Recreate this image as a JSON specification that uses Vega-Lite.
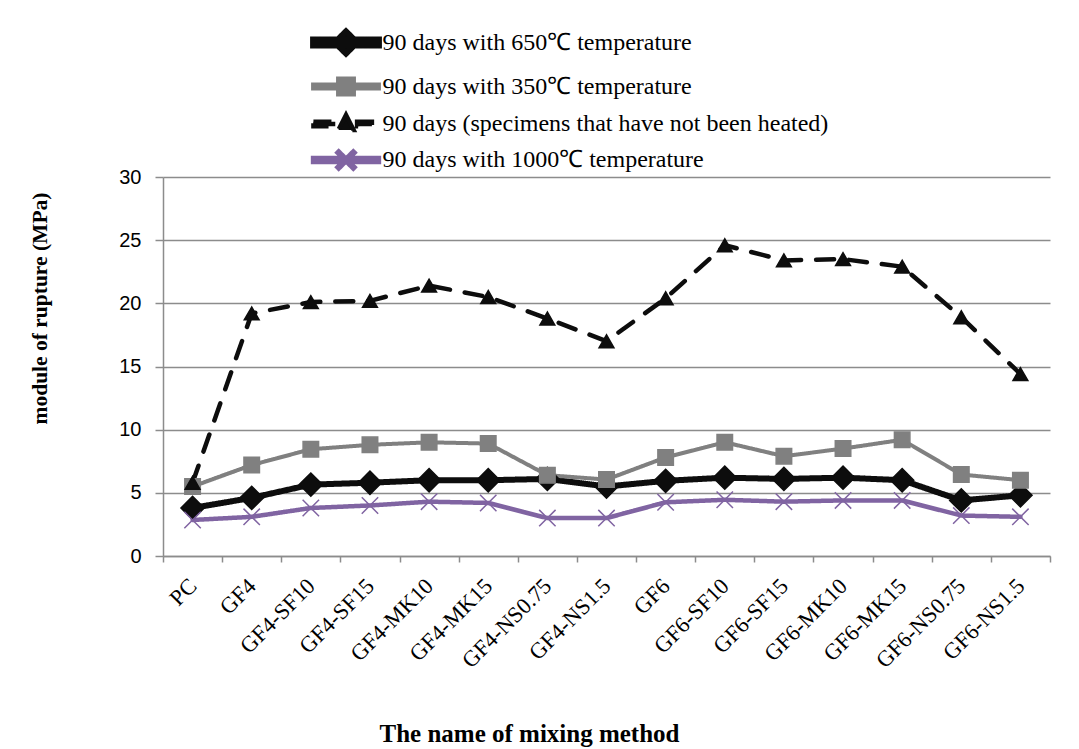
{
  "$schema": "https://vega.github.io/schema/vega-lite/v6.json",
  "width": 887,
  "height": 379,
  "autosize": {"type": "none"},
  "padding": {"left": 163, "top": 177, "right": 29, "bottom": 193},
  "background": "white",
  "config": {
    "view": {"stroke": null},
    "axis": {
      "domainColor": "#8c8c8c",
      "domainWidth": 1.5,
      "tickColor": "#8c8c8c",
      "tickWidth": 1.5,
      "gridColor": "#8c8c8c",
      "gridWidth": 1.5
    }
  },
  "data": {
    "values": [
      {"mix": "PC", "series": "90 days with 650℃ temperature", "value": 3.8},
      {"mix": "GF4", "series": "90 days with 650℃ temperature", "value": 4.6},
      {"mix": "GF4-SF10", "series": "90 days with 650℃ temperature", "value": 5.65},
      {"mix": "GF4-SF15", "series": "90 days with 650℃ temperature", "value": 5.8},
      {"mix": "GF4-MK10", "series": "90 days with 650℃ temperature", "value": 6.0},
      {"mix": "GF4-MK15", "series": "90 days with 650℃ temperature", "value": 6.0},
      {"mix": "GF4-NS0.75", "series": "90 days with 650℃ temperature", "value": 6.1},
      {"mix": "GF4-NS1.5", "series": "90 days with 650℃ temperature", "value": 5.5},
      {"mix": "GF6", "series": "90 days with 650℃ temperature", "value": 5.95},
      {"mix": "GF6-SF10", "series": "90 days with 650℃ temperature", "value": 6.2},
      {"mix": "GF6-SF15", "series": "90 days with 650℃ temperature", "value": 6.1},
      {"mix": "GF6-MK10", "series": "90 days with 650℃ temperature", "value": 6.2},
      {"mix": "GF6-MK15", "series": "90 days with 650℃ temperature", "value": 6.0},
      {"mix": "GF6-NS0.75", "series": "90 days with 650℃ temperature", "value": 4.4},
      {"mix": "GF6-NS1.5", "series": "90 days with 650℃ temperature", "value": 4.8},
      {"mix": "PC", "series": "90 days with 350℃ temperature", "value": 5.5},
      {"mix": "GF4", "series": "90 days with 350℃ temperature", "value": 7.2},
      {"mix": "GF4-SF10", "series": "90 days with 350℃ temperature", "value": 8.45},
      {"mix": "GF4-SF15", "series": "90 days with 350℃ temperature", "value": 8.8},
      {"mix": "GF4-MK10", "series": "90 days with 350℃ temperature", "value": 9.0},
      {"mix": "GF4-MK15", "series": "90 days with 350℃ temperature", "value": 8.9},
      {"mix": "GF4-NS0.75", "series": "90 days with 350℃ temperature", "value": 6.4},
      {"mix": "GF4-NS1.5", "series": "90 days with 350℃ temperature", "value": 6.05},
      {"mix": "GF6", "series": "90 days with 350℃ temperature", "value": 7.8},
      {"mix": "GF6-SF10", "series": "90 days with 350℃ temperature", "value": 9.0},
      {"mix": "GF6-SF15", "series": "90 days with 350℃ temperature", "value": 7.9},
      {"mix": "GF6-MK10", "series": "90 days with 350℃ temperature", "value": 8.5},
      {"mix": "GF6-MK15", "series": "90 days with 350℃ temperature", "value": 9.2},
      {"mix": "GF6-NS0.75", "series": "90 days with 350℃ temperature", "value": 6.45},
      {"mix": "GF6-NS1.5", "series": "90 days with 350℃ temperature", "value": 6.0},
      {"mix": "PC", "series": "90 days (specimens that have not been heated)", "value": 5.8},
      {"mix": "GF4", "series": "90 days (specimens that have not been heated)", "value": 19.2},
      {"mix": "GF4-SF10", "series": "90 days (specimens that have not been heated)", "value": 20.1},
      {"mix": "GF4-SF15", "series": "90 days (specimens that have not been heated)", "value": 20.2},
      {"mix": "GF4-MK10", "series": "90 days (specimens that have not been heated)", "value": 21.4},
      {"mix": "GF4-MK15", "series": "90 days (specimens that have not been heated)", "value": 20.5},
      {"mix": "GF4-NS0.75", "series": "90 days (specimens that have not been heated)", "value": 18.8},
      {"mix": "GF4-NS1.5", "series": "90 days (specimens that have not been heated)", "value": 17.0},
      {"mix": "GF6", "series": "90 days (specimens that have not been heated)", "value": 20.4},
      {"mix": "GF6-SF10", "series": "90 days (specimens that have not been heated)", "value": 24.6},
      {"mix": "GF6-SF15", "series": "90 days (specimens that have not been heated)", "value": 23.4},
      {"mix": "GF6-MK10", "series": "90 days (specimens that have not been heated)", "value": 23.5},
      {"mix": "GF6-MK15", "series": "90 days (specimens that have not been heated)", "value": 22.9},
      {"mix": "GF6-NS0.75", "series": "90 days (specimens that have not been heated)", "value": 18.9},
      {"mix": "GF6-NS1.5", "series": "90 days (specimens that have not been heated)", "value": 14.4},
      {"mix": "PC", "series": "90 days with 1000℃ temperature", "value": 2.85},
      {"mix": "GF4", "series": "90 days with 1000℃ temperature", "value": 3.1},
      {"mix": "GF4-SF10", "series": "90 days with 1000℃ temperature", "value": 3.8},
      {"mix": "GF4-SF15", "series": "90 days with 1000℃ temperature", "value": 4.0},
      {"mix": "GF4-MK10", "series": "90 days with 1000℃ temperature", "value": 4.3},
      {"mix": "GF4-MK15", "series": "90 days with 1000℃ temperature", "value": 4.2},
      {"mix": "GF4-NS0.75", "series": "90 days with 1000℃ temperature", "value": 3.0},
      {"mix": "GF4-NS1.5", "series": "90 days with 1000℃ temperature", "value": 3.0},
      {"mix": "GF6", "series": "90 days with 1000℃ temperature", "value": 4.25},
      {"mix": "GF6-SF10", "series": "90 days with 1000℃ temperature", "value": 4.45},
      {"mix": "GF6-SF15", "series": "90 days with 1000℃ temperature", "value": 4.3},
      {"mix": "GF6-MK10", "series": "90 days with 1000℃ temperature", "value": 4.4},
      {"mix": "GF6-MK15", "series": "90 days with 1000℃ temperature", "value": 4.4},
      {"mix": "GF6-NS0.75", "series": "90 days with 1000℃ temperature", "value": 3.2},
      {"mix": "GF6-NS1.5", "series": "90 days with 1000℃ temperature", "value": 3.1}
    ]
  },
  "encoding": {
    "x": {
      "field": "mix",
      "type": "nominal",
      "sort": null,
      "scale": {"type": "band", "paddingInner": 0, "paddingOuter": 0},
      "axis": {
        "title": "The name of mixing method",
        "titleFont": "Liberation Serif",
        "titleFontSize": 25,
        "titleFontWeight": "bold",
        "titleColor": "black",
        "titleX": 366,
        "titleY": 177,
        "titleBaseline": "middle",
        "labelAngle": -45,
        "labelAlign": "right",
        "labelBaseline": "middle",
        "labelFont": "Liberation Serif",
        "labelFontSize": 22.5,
        "labelColor": "black",
        "labelPadding": 20,
        "tickSize": 6,
        "tickBand": "extent",
        "grid": false
      }
    },
    "y": {
      "field": "value",
      "type": "quantitative",
      "scale": {"domain": [0, 30], "nice": false, "zero": true},
      "axis": {
        "title": "module of rupture (MPa)",
        "titleFont": "Liberation Serif",
        "titleFontSize": 21.5,
        "titleFontWeight": "bold",
        "titleColor": "black",
        "titleX": -123,
        "titleY": 131,
        "titleBaseline": "middle",
        "titleAlign": "center",
        "values": [0, 5, 10, 15, 20, 25, 30],
        "labelFont": "Liberation Sans",
        "labelFontSize": 20,
        "labelColor": "black",
        "labelPadding": 14,
        "tickSize": 8,
        "grid": true
      }
    }
  },
  "resolve": {
    "scale": {"shape": "independent", "size": "independent", "fill": "independent", "stroke": "independent"},
    "legend": {"shape": "independent", "size": "independent", "fill": "independent", "stroke": "independent"}
  },
  "layer": [
    {
      "mark": {"type": "line", "strokeCap": "round", "strokeJoin": "round"},
      "encoding": {
        "color": {
          "field": "series",
          "type": "nominal",
          "sort": null,
          "scale": {
            "domain": ["90 days with 650℃ temperature", "90 days with 350℃ temperature", "90 days (specimens that have not been heated)", "90 days with 1000℃ temperature"],
            "range": ["#0d0d0d", "#808080", "#0d0d0d", "#8064a2"]
          },
          "legend": {
            "title": null,
            "orient": "none",
            "legendX": 161.5,
            "legendY": -156,
            "direction": "vertical",
            "gridAlign": "each",
            "labelFont": "Liberation Serif",
            "labelFontSize": 24,
            "labelColor": "black",
            "labelLimit": 700,
            "labelOffset": 15,
            "symbolSize": 1369,
            "rowPadding": 0,
            "encode": {
              "symbols": {
                "update": {
                  "shape": {"signal": "['M-1.78,-0.16H1.78V0.16H-1.78ZM0,-0.6L0.6,0L0,0.6L-0.6,0Z','M-1.78,-0.11H1.78V0.11H-1.78ZM-0.43,-0.43H0.43V0.43H-0.43Z','M-1.76,-0.12H-0.58V0.12H-1.76ZM0.6,-0.12H1.4V0.12H0.6ZM0,-0.49L0.41,0.32H-0.41Z','M-1.78,-0.11H1.78V0.11H-1.78ZM-0.395,-0.465L0.465,0.395L0.395,0.465L-0.465,-0.395ZM-0.465,0.395L0.395,-0.465L0.465,-0.395L-0.395,0.465Z'][datum.index]"},
                  "fill": {"signal": "['#0d0d0d','#808080','#0d0d0d','#8064a2'][datum.index]"},
                  "fillOpacity": {"value": 1},
                  "stroke": {"value": "transparent"},
                  "strokeWidth": {"value": 0},
                  "strokeDash": {"value": [1, 0]},
                  "size": {"value": 1369},
                  "opacity": {"value": 1}
                }
              }
            }
          }
        },
        "strokeDash": {
          "field": "series",
          "type": "nominal",
          "sort": null,
          "scale": {
            "domain": ["90 days with 650℃ temperature", "90 days with 350℃ temperature", "90 days (specimens that have not been heated)", "90 days with 1000℃ temperature"],
            "range": [[1, 0], [1, 0], [18, 15], [1, 0]]
          },
          "legend": null
        },
        "strokeWidth": {
          "field": "series",
          "type": "nominal",
          "sort": null,
          "scale": {
            "type": "ordinal",
            "domain": ["90 days with 650℃ temperature", "90 days with 350℃ temperature", "90 days (specimens that have not been heated)", "90 days with 1000℃ temperature"],
            "range": [6, 4, 4.5, 4.5]
          },
          "legend": null
        }
      }
    },
    {
      "mark": {"type": "point", "filled": true, "opacity": 1, "strokeWidth": 1.5},
      "encoding": {
        "fill": {
          "field": "series",
          "type": "nominal",
          "sort": null,
          "scale": {
            "domain": ["90 days with 650℃ temperature", "90 days with 350℃ temperature", "90 days (specimens that have not been heated)", "90 days with 1000℃ temperature"],
            "range": ["#0d0d0d", "#808080", "#0d0d0d", "#8064a2"]
          },
          "legend": null
        },
        "stroke": {
          "field": "series",
          "type": "nominal",
          "sort": null,
          "scale": {
            "domain": ["90 days with 650℃ temperature", "90 days with 350℃ temperature", "90 days (specimens that have not been heated)", "90 days with 1000℃ temperature"],
            "range": ["#0d0d0d", "#808080", "#0d0d0d", "#8064a2"]
          },
          "legend": null
        },
        "shape": {
          "field": "series",
          "type": "nominal",
          "sort": null,
          "scale": {
            "domain": ["90 days with 650℃ temperature", "90 days with 350℃ temperature", "90 days (specimens that have not been heated)", "90 days with 1000℃ temperature"],
            "range": ["diamond", "square", "triangle-up", "M-1,-1L1,1M-1,1L1,-1"]
          },
          "legend": null
        },
        "size": {
          "field": "series",
          "type": "nominal",
          "sort": null,
          "scale": {
            "type": "ordinal",
            "domain": ["90 days with 650℃ temperature", "90 days with 350℃ temperature", "90 days (specimens that have not been heated)", "90 days with 1000℃ temperature"],
            "range": [540, 240, 220, 270]
          },
          "legend": null
        }
      }
    }
  ]
}
